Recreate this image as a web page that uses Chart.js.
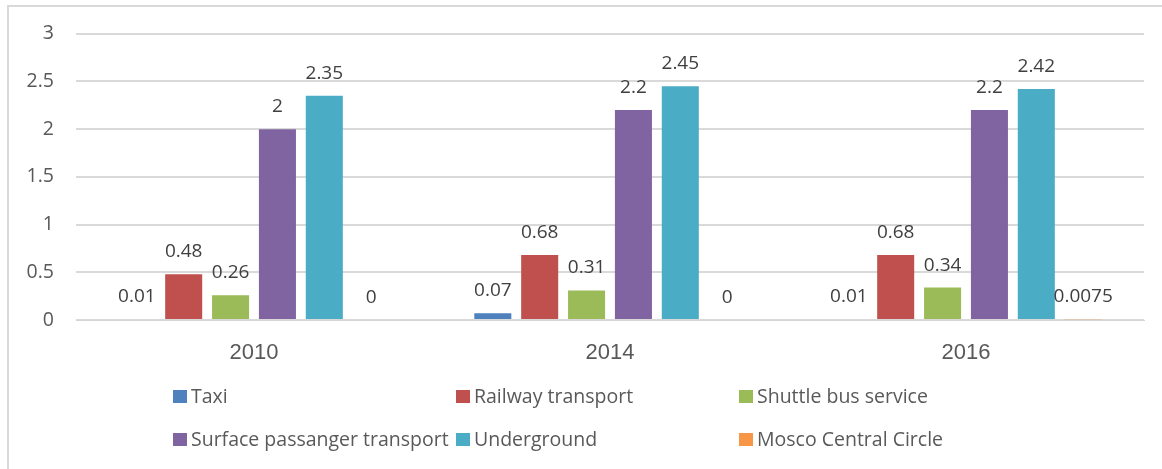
<!DOCTYPE html>
<html>
<head>
<meta charset="utf-8">
<script src="https://cdn.jsdelivr.net/npm/chart.js@4.4.1/dist/chart.umd.min.js"></script>
<style>
    html, body { margin: 0; padding: 0; background: #fff; overflow: hidden; }
    #wrap { position: relative; width: 1162px; height: 469px; }
    #frame {
        position: absolute; left: 7px; top: 5px; width: 1200px; height: 500px;
        border-left: 2px solid #d9d9d9; border-top: 2px solid #d9d9d9;
    }
    #transportChart { position: absolute; left: 0; top: 0; }
</style>
</head>
<body>
<div id="wrap">
    <div id="frame"></div>
    <canvas id="transportChart" width="1162" height="469"></canvas>
</div>
<script>
// passenger transport by mode (values as labelled on the chart)
const categories = ['2010', '2014', '2016'];
const seriesNames = ['Taxi', 'Railway transport', 'Shuttle bus service',
    'Surface passanger transport', 'Underground', 'Mosco Central Circle'];

const taxi = [0.01, 0.07, 0.01];
const railway = [0.48, 0.68, 0.68];
const shuttleBus = [0.26, 0.31, 0.34];
const surface = [2, 2.2, 2.2];
const underground = [2.35, 2.45, 2.42];
const centralCircle = [0, 0, 0.0075];

const yTicks = [0, 0.5, 1, 1.5, 2, 2.5, 3];

const seriesValues = [taxi, railway, shuttleBus, surface, underground, centralCircle];
const seriesColors = ['#4f81bd', '#c0504d', '#9bbb59', '#8064a2', '#4bacc6', '#f79646'];

const TEXT_FONT = '"Open Sans", sans-serif';

// value labels above each bar
const barLabels = {
    id: 'barLabels',
    afterDatasetsDraw(chart) {
        const ctx = chart.ctx;
        ctx.save();
        ctx.font = '19px ' + TEXT_FONT;
        ctx.fillStyle = '#404040';
        ctx.textAlign = 'center';
        ctx.textBaseline = 'alphabetic';
        chart.data.datasets.forEach((ds, i) => {
            chart.getDatasetMeta(i).data.forEach((bar, j) => {
                ctx.fillText(String(ds.data[j]), bar.x, bar.y - 17);
            });
        });
        ctx.restore();
    }
};

// three-column legend under the axis
const gridLegend = {
    id: 'gridLegend',
    afterDraw(chart) {
        const ctx = chart.ctx;
        const left = 173, colWidth = 283;
        const top = chart.chartArea.bottom + 77, rowGap = 43;
        ctx.save();
        ctx.font = '19.5px ' + TEXT_FONT;
        ctx.textBaseline = 'middle';
        chart.data.datasets.forEach((ds, i) => {
            const x = left + (i % 3) * colWidth;
            const y = top + Math.floor(i / 3) * rowGap;
            ctx.fillStyle = ds.backgroundColor;
            ctx.fillRect(x, y - 7, 14, 13);
            ctx.fillStyle = '#595959';
            ctx.fillText(ds.label, x + 18, y);
        });
        ctx.restore();
    }
};

document.addEventListener('DOMContentLoaded', () => {
    const ctx = document.getElementById('transportChart').getContext('2d');
    new Chart(ctx, {
        type: 'bar',
        data: {
            labels: categories,
            datasets: seriesNames.map((name, i) => ({
                label: name,
                data: seriesValues[i],
                backgroundColor: seriesColors[i],
                borderWidth: 0,
                categoryPercentage: 0.79,
                barPercentage: 0.79
            }))
        },
        options: {
            responsive: false,
            animation: false,
            devicePixelRatio: 1,
            layout: { padding: { top: 23, right: 18, bottom: 109, left: 0 } },
            plugins: {
                legend: { display: false },
                tooltip: { enabled: false }
            },
            scales: {
                x: {
                    grid: { display: false, drawTicks: false },
                    border: { display: true, color: '#d4d4d4', width: 1 },
                    ticks: {
                        color: '#595959',
                        padding: 20,
                        font: { family: '"Liberation Sans", Arial, sans-serif', size: 22 }
                    },
                    afterFit(scale) { scale.height = 40; }
                },
                y: {
                    min: 0,
                    max: 3,
                    afterBuildTicks(scale) { scale.ticks = yTicks.map(v => ({ value: v })); },
                    grid: { color: '#d9d9d9', lineWidth: 2, drawTicks: false },
                    border: { display: false },
                    ticks: {
                        color: '#595959',
                        padding: 22,
                        font: { family: TEXT_FONT, size: 19.5 },
                        callback: (value) => String(value)
                    },
                    afterFit(scale) { scale.width = 76; }
                }
            }
        },
        plugins: [barLabels, gridLegend]
    });
});
</script>
</body>
</html>
